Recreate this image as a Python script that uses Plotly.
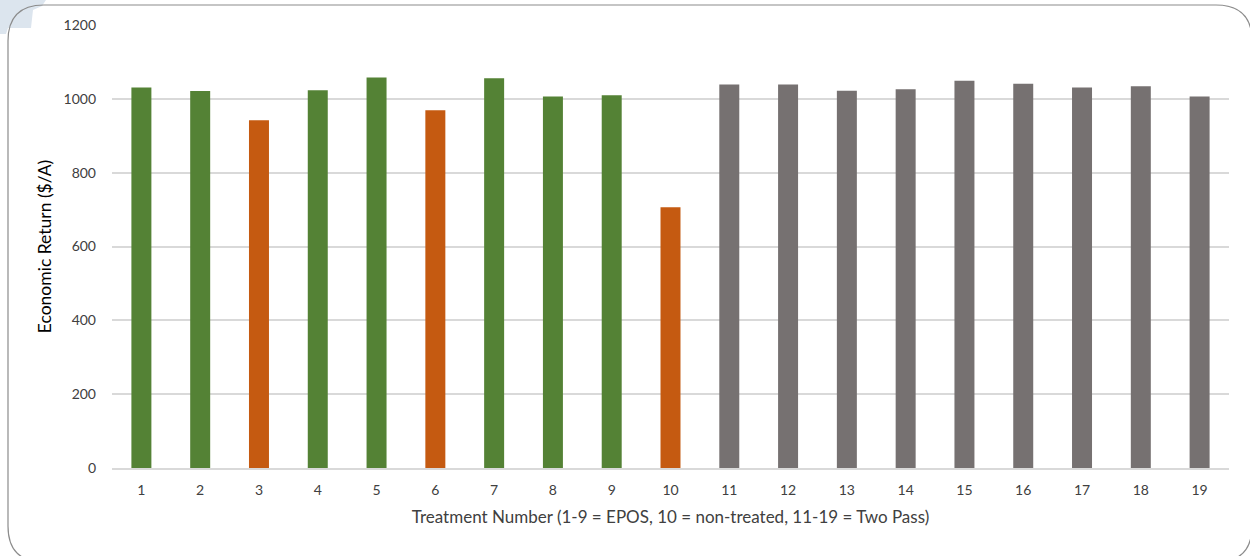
import plotly.graph_objects as go

treatments = [str(i) for i in range(1, 20)]
returns = [1031, 1021, 942, 1023, 1058, 969, 1056, 1006, 1010, 706,
           1039, 1039, 1022, 1026, 1049, 1041, 1031, 1034, 1006]
groups = ["EPOS", "EPOS", "Low", "EPOS", "EPOS", "Low", "EPOS", "EPOS", "EPOS", "Low",
          "Two", "Two", "Two", "Two", "Two", "Two", "Two", "Two", "Two"]
group_colors = {"EPOS": "#548235", "Low": "#C55A11", "Two": "#767171"}
y_ticks = [0, 200, 400, 600, 800, 1000, 1200]

W, H = 1250, 556
ml, mr, mt, mb = 112, 21, 25, 88
pw, ph = W - ml - mr, H - mt - mb

def px(x):
    return (x - ml) / pw

def py(y):
    return (H - mb - y) / ph

def rounded_rect(x0, y0, x1, y1, r):
    def P(x, y):
        return f"{px(x):.5f},{py(y):.5f}"
    return (f"M {P(x0 + r, y0)} L {P(x1 - r, y0)} Q {P(x1, y0)} {P(x1, y0 + r)} "
            f"L {P(x1, y1 - r)} Q {P(x1, y1)} {P(x1 - r, y1)} "
            f"L {P(x0 + r, y1)} Q {P(x0, y1)} {P(x0, y1 - r)} "
            f"L {P(x0, y0 + r)} Q {P(x0, y0)} {P(x0 + r, y0)} Z")

blue_poly = [(0, 0), (46, 0), (42, 6), (33, 10), (31, 28), (8, 28), (6, 34), (0, 34)]
blue_path = "M " + " L ".join(f"{px(x):.5f},{py(y):.5f}" for x, y in blue_poly) + " Z"

fig = go.Figure()
fig.add_trace(go.Bar(
    x=treatments, y=returns,
    marker=dict(color=[group_colors[g] for g in groups], line=dict(width=0)),
    hovertemplate="%{x}: %{y}<extra></extra>",
))

fig.update_layout(
    width=W, height=H,
    margin=dict(l=ml, r=mr, t=mt, b=mb),
    paper_bgcolor="white",
    plot_bgcolor="rgba(0,0,0,0)",
    bargap=0.66,
    showlegend=False,
    font=dict(family="Lato, Carlito, Liberation Sans, sans-serif", color="#595959", size=14),
    xaxis=dict(
        type="category", range=[-0.5, 18.5],
        showline=True, linecolor="#d9d9d9", linewidth=1.5,
        ticks="", showgrid=False,
        tickfont=dict(size=14, color="#404040"),
        ticklabelstandoff=8,
        title=dict(text="Treatment Number (1-9 = EPOS, 10 = non-treated, 11-19 = Two Pass)",
                   font=dict(size=17, color="#404040"), standoff=15),
    ),
    yaxis=dict(
        range=[0, 1200], tickvals=y_ticks,
        showgrid=True, gridcolor="#d9d9d9", gridwidth=1.5,
        zeroline=False, ticks="", showline=False,
        tickfont=dict(size=14, color="#404040"),
        ticklabelstandoff=15,
        title=dict(text="Economic Return ($/A)", font=dict(size=17.5, color="#000000"), standoff=7),
    ),
    shapes=[
        dict(type="path", path=blue_path, xref="paper", yref="paper",
             fillcolor="#dce5ee", line=dict(width=0), layer="below"),
        dict(type="path", path=rounded_rect(8, 5, 1252, 562, 36), xref="paper", yref="paper",
             fillcolor="rgba(0,0,0,0)", line=dict(color="#8c8c8c", width=1.2), layer="below"),
    ],
)

fig.write_html("out.html", config={"displayModeBar": False},
               post_script="document.body.style.margin='0';")
